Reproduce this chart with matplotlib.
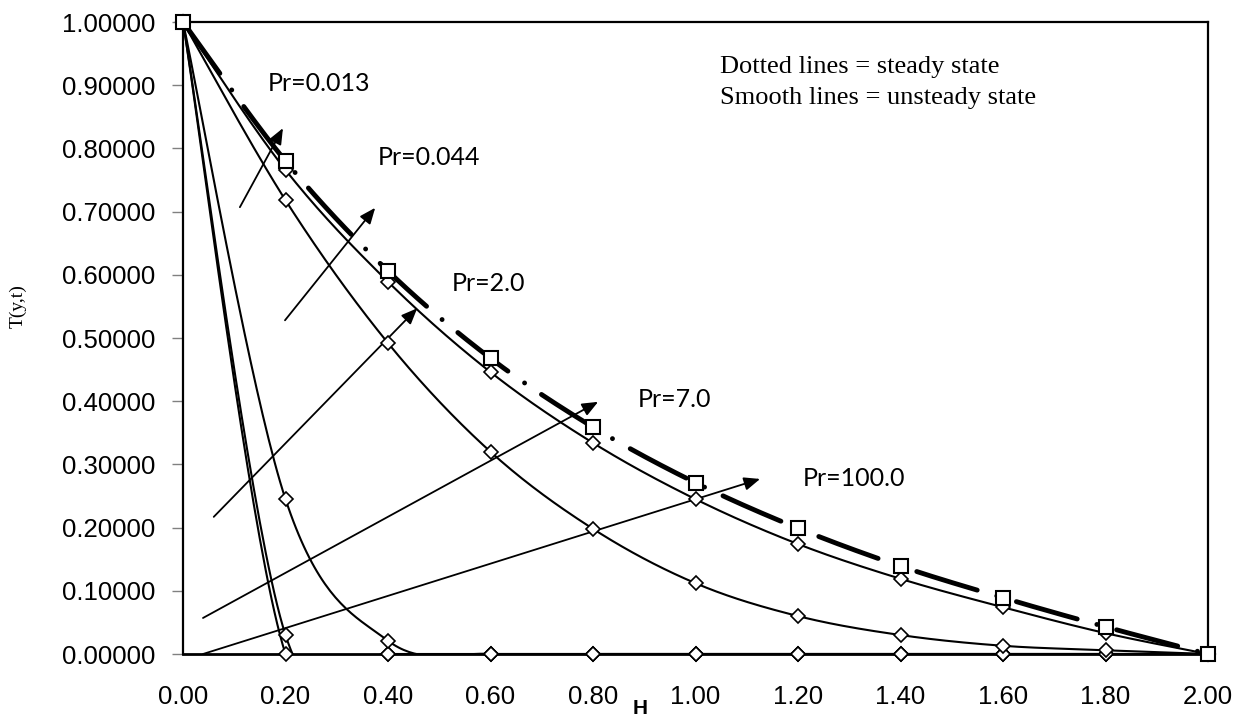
import numpy as np
import matplotlib.pyplot as plt

# H positions
h = [0.0, 0.2, 0.4, 0.6, 0.8, 1.0, 1.2, 1.4, 1.6, 1.8, 2.0]

# unsteady state (smooth lines, diamonds)
pr_0013 = [1.0, 0.766, 0.589, 0.446, 0.334, 0.245, 0.174, 0.119, 0.074, 0.033, 0.0]
pr_0044 = [1.0, 0.718, 0.492, 0.320, 0.198, 0.112, 0.060, 0.030, 0.013, 0.006, 0.0]
pr_2 = [1.0, 0.245, 0.021, 0.0, 0.0, 0.0, 0.0, 0.0, 0.0, 0.0, 0.0]
pr_7 = [1.0, 0.030, 0.0, 0.0, 0.0, 0.0, 0.0, 0.0, 0.0, 0.0, 0.0]
pr_100 = [1.0, 0.0, 0.0, 0.0, 0.0, 0.0, 0.0, 0.0, 0.0, 0.0, 0.0]

# steady state (dash-dot, squares)
steady = [1.0, 0.780, 0.606, 0.468, 0.359, 0.271, 0.199, 0.139, 0.089, 0.043, 0.0]

# annotations
labels = ['Pr=0.013', 'Pr=0.044', 'Pr=2.0', 'Pr=7.0', 'Pr=100.0']
label_x = [0.166, 0.380, 0.525, 0.888, 1.210]
label_y = [0.902, 0.786, 0.587, 0.402, 0.277]
arrow_from = [(0.111, 0.707), (0.199, 0.528), (0.060, 0.217), (0.039, 0.057), (0.039, 0.0)]
arrow_to = [(0.195, 0.832), (0.375, 0.706), (0.457, 0.547), (0.810, 0.399), (1.126, 0.277)]


def smooth(x, y, n=40):
    # excel-like smoothed line (bezier through the points)
    p = np.column_stack([x, y])
    pp = np.vstack([p[0], p, p[-1]])
    t = np.linspace(0, 1, n)[1:, None]
    out = [p[:1]]
    for i in range(len(p) - 1):
        p0, p3 = p[i], p[i + 1]
        c1 = p0 + (pp[i + 2] - pp[i]) / 6
        c2 = p3 - (pp[i + 3] - pp[i + 1]) / 6
        out.append((1 - t)**3 * p0 + 3 * (1 - t)**2 * t * c1 + 3 * (1 - t) * t**2 * c2 + t**3 * p3)
    s = np.vstack(out)
    return s[:, 0], s[:, 1]


fig = plt.figure(figsize=(12.44, 7.21), dpi=100)
ax = fig.add_axes([183 / 1244, 1 - 654 / 721, (1208 - 183) / 1244, (654 - 22) / 721])

for ys in [pr_100, pr_7, pr_2, pr_0044, pr_0013]:
    sx, sy = smooth(h, ys)
    ax.plot(sx, sy, color='black', lw=1.5, zorder=3)
for ys in [pr_100, pr_7, pr_2, pr_0044, pr_0013]:
    ax.plot(h, ys, ls='none', marker='D', ms=6.8, mfc='white', mec='black', mew=1.2,
            clip_on=False, zorder=4)

sx, sy = smooth(h, steady)
ax.plot(sx, sy, color='black', lw=3.5, dashes=(13, 4.2, 0.01, 4.2), dash_capstyle='round', zorder=5)
ax.plot(h, steady, ls='none', marker='s', ms=9.5, mfc='white', mec='black', mew=1.5,
        clip_on=False, zorder=6)

for lab, lx, ly in zip(labels, label_x, label_y):
    ax.text(lx, ly, lab, fontsize=18, family=['Lato', 'DejaVu Sans'], ha='left', va='center')
for a, b in zip(arrow_from, arrow_to):
    ax.annotate('', xy=b, xytext=a, annotation_clip=False,
                arrowprops=dict(arrowstyle='-|>,head_length=0.6,head_width=0.25', color='black',
                                lw=1.3, mutation_scale=16, shrinkA=0, shrinkB=0))

ax.text(1.048, 0.929, 'Dotted lines = steady state', fontsize=19, family='Liberation Serif', va='center')
ax.text(1.048, 0.880, 'Smooth lines = unsteady state', fontsize=19, family='Liberation Serif', va='center')

ax.set_xlim(0, 2)
ax.set_ylim(0, 1)
ax.set_xticks(h)
ax.set_xticklabels(['%.2f' % v for v in h])
ax.set_yticks(np.arange(0, 1.01, 0.1))
ax.set_yticklabels(['%.5f' % v for v in np.arange(0, 1.01, 0.1)])
ax.tick_params(axis='x', length=0, pad=22, labelsize=18.5)
ax.tick_params(axis='y', length=8, width=1, color='#808080', pad=12, labelsize=18.5)
for lab in ax.get_xticklabels() + ax.get_yticklabels():
    lab.set_family('Liberation Sans')
for sp in ax.spines.values():
    sp.set_linewidth(1.6)
    sp.set_color('black')
ax.spines['bottom'].set_linewidth(2)

fig.text(640 / 1244, 1 - 708 / 721, 'H', fontsize=15, fontweight='bold', family='Liberation Sans',
         ha='center', va='center')
fig.text(18 / 1244, 1 - 306 / 721, 'T(y,t)', fontsize=14, family='Liberation Serif',
         rotation=90, ha='center', va='center')

fig.savefig('out.png', dpi=100)
